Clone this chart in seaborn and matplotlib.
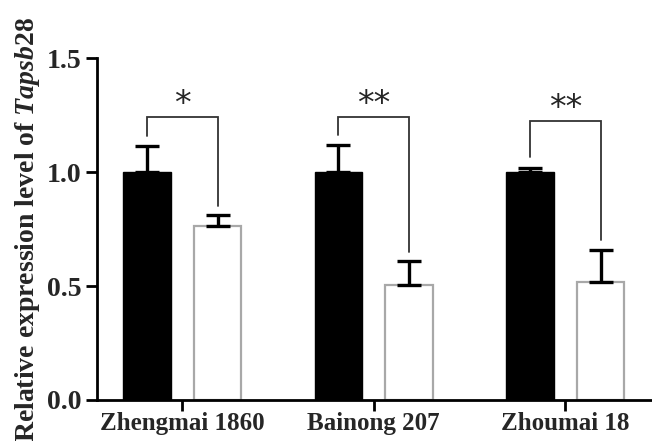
import numpy as np
import pandas as pd
import matplotlib
matplotlib.use('Agg')
import matplotlib.pyplot as plt
import seaborn as sns

# ---------- DATA ----------
cultivars = ['Zhengmai 1860', 'Bainong 207', 'Zhoumai 18']
groups = ['Control', 'Treatment']
control_mean = [1.00, 1.00, 1.00]
control_err = [0.115, 0.12, 0.02]
treat_mean = [0.765, 0.505, 0.52]
treat_err = [0.045, 0.105, 0.14]
stars = ['*', '**', '**']
bracket_top = [1.24, 1.24, 1.225]

df = pd.DataFrame({
    'cultivar': cultivars * 2,
    'group': [groups[0]] * 3 + [groups[1]] * 3,
    'value': control_mean + treat_mean,
})

# ---------- STYLE ----------
sns.set_style('ticks')
plt.rcParams['font.family'] = ['Liberation Serif', 'DejaVu Serif']
plt.rcParams['font.weight'] = 'bold'
plt.rcParams['mathtext.fontset'] = 'custom'
plt.rcParams['mathtext.it'] = 'Liberation Serif:italic'
plt.rcParams['mathtext.rm'] = 'Liberation Serif:bold'

fig = plt.figure(figsize=(6.52, 4.41), dpi=100)
ax = fig.add_axes([0.149, 0.093, 0.85, 0.775])

sns.barplot(data=df, x='cultivar', y='value', hue='group', order=cultivars,
            hue_order=groups, palette=['black', 'white'], errorbar=None,
            width=0.74, gap=0.33, legend=False, ax=ax)

# bar edges: black for control, grey for treatment
bars = ax.patches[:6]
for i, b in enumerate(bars):
    if i < 3:
        b.set_edgecolor('black')
        b.set_linewidth(1.0)
    else:
        b.set_edgecolor('#a8a8a8')
        b.set_linewidth(1.6)

# error bars (upper only)
means = control_mean + treat_mean
errs = control_err + treat_err
xs = [b.get_x() + b.get_width() / 2 for b in bars]
ax.errorbar(xs, means, yerr=[np.zeros(6), errs], fmt='none', ecolor='black',
            elinewidth=2.4, capsize=8.5, capthick=2.4, zorder=5)

# significance brackets
for i in range(3):
    x1, x2 = xs[i], xs[i + 3]
    y1 = control_mean[i] + control_err[i] + 0.045
    y2 = treat_mean[i] + treat_err[i] + 0.04
    top = bracket_top[i]
    ax.plot([x1, x1, x2, x2], [y1, top, top, y2], color='#333333', lw=1.3,
            solid_joinstyle='miter', clip_on=False)
    ax.text((x1 + x2) / 2, top + 0.055, stars[i], ha='center', va='center',
            fontsize=24, fontweight='normal', family='DejaVu Sans')

# ---------- AXES ----------
ax.set_ylim(0, 1.5)
ax.set_xlim(-0.445, 2.45)
ax.set_yticks([0.0, 0.5, 1.0, 1.5])
ax.set_yticklabels(['0.0', '0.5', '1.0', '1.5'], fontsize=20, fontweight='bold')
ax.set_xticks([0, 1, 2])
ax.set_xticklabels(cultivars, fontsize=18, fontweight='bold')
ax.set_xlabel('')
ax.set_ylabel(r'Relative expression level of $\it{Tapsb28}$', fontsize=20,
              fontweight='bold', labelpad=4)
ax.tick_params(axis='both', length=8, width=2, color='black', pad=3)
ax.tick_params(axis='x', pad=1)
sns.despine(ax=ax)
for s in ['left', 'bottom']:
    ax.spines[s].set_linewidth(2)
    ax.spines[s].set_color('black')

fig.savefig('out.png', dpi=100)
